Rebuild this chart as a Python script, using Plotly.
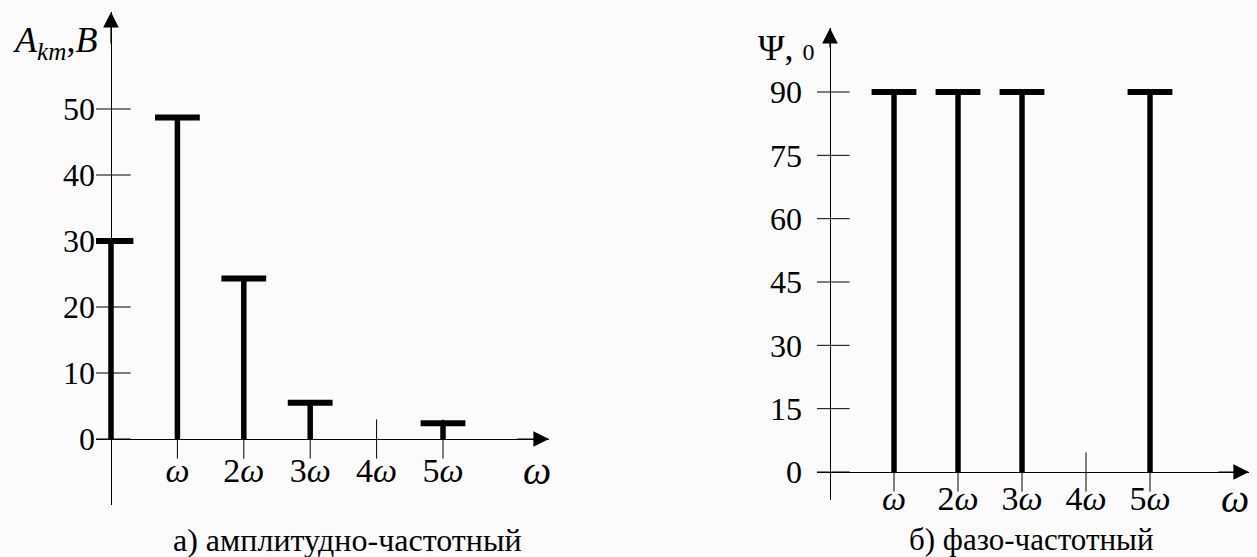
import plotly.graph_objects as go

# ---------------- data ----------------
amp_harmonics = [0, 1, 2, 3, 5]
amp_values = [30, 48.7, 24.3, 5.5, 2.4]

phase_harmonics = [1, 2, 3, 5]
phase_values = [90, 90, 90, 90]

amp_ticks = [0, 10, 20, 30, 40, 50]
phase_ticks = [0, 15, 30, 45, 60, 75, 90]

freq_ticks = [1, 2, 3, 4, 5]
freq_labels = ["<i>ω</i>", "2<i>ω</i>", "3<i>ω</i>", "4<i>ω</i>", "5<i>ω</i>"]

caption_a = "а) амплитудно-частотный"
caption_b = "б) фазо-частотный"

# ---------------- layout helpers ----------------
W, H = 1257, 557
FONT = "Liberation Serif"
BLACK = "#000000"


def stems(xs, ys):
    px, py = [], []
    for x, y in zip(xs, ys):
        px += [x, x, None]
        py += [0, y, None]
    return px, py


fig = go.Figure()

for (xs, ys, ticks, xa, ya) in [
    (amp_harmonics, amp_values, amp_ticks, "x", "y"),
    (phase_harmonics, phase_values, phase_ticks, "x2", "y2"),
]:
    sx, sy = stems(xs, ys)
    fig.add_trace(go.Scatter(x=sx, y=sy, mode="lines", xaxis=xa, yaxis=ya,
                             line=dict(color=BLACK, width=5.5), hoverinfo="skip"))
    fig.add_trace(go.Scatter(x=xs, y=ys, mode="markers", xaxis=xa, yaxis=ya,
                             marker=dict(symbol="line-ew-open", size=32, color=BLACK,
                                         line=dict(color=BLACK, width=6)),
                             hoverinfo="skip"))
    # y tick marks crossing the vertical axis
    fig.add_trace(go.Scatter(x=[0] * len(ticks), y=ticks, mode="markers", xaxis=xa, yaxis=ya,
                             marker=dict(symbol="line-ew-open", size=28, color=BLACK,
                                         line=dict(color=BLACK, width=1)),
                             hoverinfo="skip"))
    # x tick marks crossing the horizontal axis
    fig.add_trace(go.Scatter(x=freq_ticks, y=[0] * len(freq_ticks), mode="markers",
                             xaxis=xa, yaxis=ya,
                             marker=dict(symbol="line-ns-open", size=28, color=BLACK,
                                         line=dict(color=BLACK, width=1)),
                             hoverinfo="skip"))

# pixel geometry -> axis ranges
L_x0, L_dx = 111, 66.4
L_y0, L_dy = 439, 6.6
L_left, L_right, L_top, L_bot = 96, 549, 12, 505
R_x0, R_dx = 830, 64.0
R_y0, R_dy = 472, 380 / 90
R_left, R_right, R_top, R_bot = 817, 1249, 28, 500

lx_rng = [(L_left - L_x0) / L_dx, (L_right - L_x0) / L_dx]
ly_rng = [(L_y0 - L_bot) / L_dy, (L_y0 - L_top) / L_dy]
rx_rng = [(R_left - R_x0) / R_dx, (R_right - R_x0) / R_dx]
ry_rng = [(R_y0 - R_bot) / R_dy, (R_y0 - R_top) / R_dy]

tickfont = dict(family=FONT, size=32, color=BLACK)
xtickfont = dict(family=FONT, size=34, color=BLACK)

common_x = dict(showgrid=False, zeroline=True, zerolinecolor=BLACK, zerolinewidth=1.3,
                showline=False, ticks="", tickmode="array", tickvals=freq_ticks,
                ticktext=freq_labels, tickfont=xtickfont, fixedrange=True, anchor="free")
common_y = dict(showgrid=False, zeroline=True, zerolinecolor=BLACK, zerolinewidth=1.3,
                showline=False, ticks="", tickmode="array", tickfont=tickfont, fixedrange=True)

fig.update_layout(
    width=W, height=H,
    margin=dict(l=0, r=0, t=0, b=0),
    paper_bgcolor="#fbfbfb", plot_bgcolor="rgba(0,0,0,0)",
    showlegend=False,
    font=dict(family=FONT, color=BLACK),
    xaxis=dict(**common_x, domain=[L_left / W, L_right / W], range=lx_rng,
               position=1 - L_y0 / H, ticklabelstandoff=8),
    yaxis=dict(**common_y, domain=[1 - L_bot / H, 1 - L_top / H], range=ly_rng,
               tickvals=amp_ticks, anchor="x", ticklabelstandoff=0),
    xaxis2=dict(**common_x, domain=[R_left / W, R_right / W], range=rx_rng,
                position=1 - R_y0 / H, ticklabelstandoff=3),
    yaxis2=dict(**common_y, domain=[1 - R_bot / H, 1 - R_top / H], range=ry_rng,
                tickvals=phase_ticks, anchor="x2", ticklabelstandoff=14),
)

annotations = []
# axis arrows
for xa, ya, xr, yr in [("x", "y", lx_rng, ly_rng), ("x2", "y2", rx_rng, ry_rng)]:
    annotations.append(dict(x=xr[1], y=0, ax=xr[1] - 0.5, ay=0, xref=xa, yref=ya,
                            axref=xa, ayref=ya, showarrow=True, arrowhead=2,
                            arrowsize=2.6, arrowwidth=1.2, arrowcolor=BLACK, text=""))
    annotations.append(dict(x=0, y=yr[1], ax=0, ay=yr[1] - 5, xref=xa, yref=ya,
                            axref=xa, ayref=ya, showarrow=True, arrowhead=2,
                            arrowsize=2.6, arrowwidth=1.2, arrowcolor=BLACK, text=""))
annotations.append(dict(x=(537 - L_x0) / L_dx, y=(L_y0 - 470) / L_dy, xref="x", yref="y",
                        xanchor="center", yanchor="middle",
                        text="<i>ω</i>", showarrow=False,
                        font=dict(family=FONT, size=40, color=BLACK)))
annotations.append(dict(x=(1235 - R_x0) / R_dx, y=(R_y0 - 498) / R_dy, xref="x2", yref="y2",
                        xanchor="center", yanchor="middle",
                        text="<i>ω</i>", showarrow=False,
                        font=dict(family=FONT, size=40, color=BLACK)))
annotations.append(dict(x=55 / W, y=1 - 42 / H, xref="paper", yref="paper",
                        xanchor="center", yanchor="middle",
                        text="<i>A<sub>km</sub></i>,<i>B</i>", showarrow=False,
                        font=dict(family=FONT, size=36, color=BLACK)))
annotations.append(dict(x=786 / W, y=1 - 48 / H, xref="paper", yref="paper",
                        xanchor="center", yanchor="middle",
                        text="Ψ, <span style='font-size:24px'>0</span>", showarrow=False,
                        font=dict(family=FONT, size=36, color=BLACK)))
annotations.append(dict(x=348 / W, y=1 - 540 / H, xref="paper", yref="paper",
                        xanchor="center", yanchor="middle",
                        text=caption_a, showarrow=False,
                        font=dict(family=FONT, size=32, color=BLACK)))
annotations.append(dict(x=1031 / W, y=1 - 539 / H, xref="paper", yref="paper",
                        xanchor="center", yanchor="middle",
                        text=caption_b, showarrow=False,
                        font=dict(family=FONT, size=31, color=BLACK)))
fig.update_layout(annotations=annotations)

fig.write_html("out.html", config={"displayModeBar": False})
